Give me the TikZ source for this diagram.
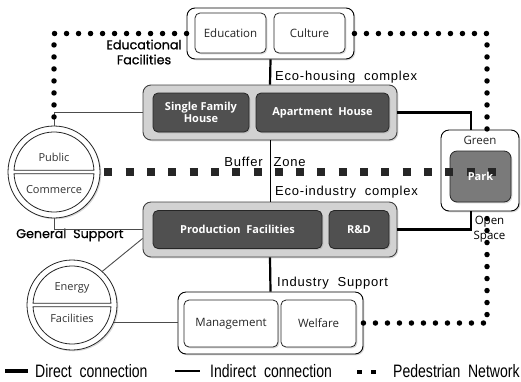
\documentclass[tikz,border=0pt]{standalone}
\usepackage{fontspec}
\setmainfont{Open Sans}
\newfontfamily\geofont[FakeBold=0.7]{Poppins}
\newfontfamily\gulim[LetterSpace=6]{Liberation Sans}
\newfontfamily\legfont[FakeStretch=0.78]{Liberation Sans}
\usetikzlibrary{shadows}
\definecolor{darkbox}{HTML}{505050}
\definecolor{parkgray}{HTML}{7A7A7A}
\definecolor{grpgray}{HTML}{D2D2D2}
\begin{document}
\begin{tikzpicture}[x=1pt,y=-1pt,
  shd/.style={drop shadow={shadow xshift=1.3pt,shadow yshift=-1.3pt,opacity=0.3}},
  groupwhite/.style={draw=black,line width=0.9pt,fill=white,rounded corners=8pt,shd,inner sep=0pt},
  groupgray/.style={draw=black!75,line width=0.9pt,fill=grpgray,rounded corners=8pt,shd,inner sep=0pt},
  wbox/.style={draw=black!85,line width=0.8pt,fill=white,rounded corners=5pt,inner sep=0pt,
    text=black!85,font=\fontsize{11.5}{13}\selectfont,shd},
  dbox/.style={draw=black!85,line width=0.8pt,fill=darkbox,rounded corners=5pt,inner sep=0pt,
    text=white,font=\bfseries\fontsize{11}{13}\selectfont,align=center,shd},
  circ/.style={circle,draw=black!85,line width=0.8pt,fill=white,inner sep=0pt,shd},
  ctext/.style={inner sep=0pt,text=black!80,font=\fontsize{11}{13}\selectfont},
  lbl/.style={inner sep=0pt,text=black,font=\gulim\fontsize{13}{14}\selectfont},
  geo/.style={inner sep=0pt,text=black,align=center,font=\geofont\fontsize{12.7}{15}\selectfont},
  direct/.style={draw=black,line width=2.2pt},
  indirect/.style={draw=black!70,line width=0.9pt},
  ped/.style={draw=black,line width=5.5pt,line cap=round,dash pattern=on 0pt off 12pt},
  buffer/.style={draw=black!85,line width=8pt,dash pattern=on 8pt off 13.3pt},
  legtext/.style={inner sep=0pt,anchor=west,font=\legfont\fontsize{18}{20}\selectfont}
]
\useasboundingbox (0,0) rectangle (521,381);

% group boxes
\node[groupwhite,minimum width=167pt,minimum height=51pt] (topg) at (270.5,33.5) {};
\node[groupgray,minimum width=254pt,minimum height=55pt] (housing) at (270,112.5) {};
\node[groupgray,minimum width=254pt,minimum height=55pt] (industry) at (270,229.5) {};
\node[groupwhite,minimum width=185pt,minimum height=62pt] (bottomg) at (270.5,323) {};
\node[groupwhite,minimum width=78pt,minimum height=81pt] (parkg) at (480,170.5) {};

% inner boxes
\node[wbox,minimum width=71pt,minimum height=40pt] (edu) at (230.5,33) {Education};
\node[wbox,minimum width=71pt,minimum height=40pt] (cult) at (309.5,33) {Culture};
\node[dbox,minimum width=96pt,minimum height=39pt] (sfh) at (201,112.5) {Single Family\\[-1pt]House};
\node[dbox,minimum width=133pt,minimum height=39pt] (apt) at (322.5,112.5) {Apartment\ \ House};
\node[dbox,minimum width=169pt,minimum height=38pt] (prod) at (237.5,229.5) {Production\ \ Facilities};
\node[dbox,minimum width=60pt,minimum height=38pt] (rd) at (359,229.5) {R\&D};
\node[wbox,minimum width=94pt,minimum height=47pt] (mgmt) at (231,323.5) {Management};
\node[wbox,minimum width=75pt,minimum height=47pt] (welf) at (318.5,323.5) {Welfare};
\node[draw=black!85,line width=0.8pt,fill=parkgray,rounded corners=7pt,shd,
  minimum width=61pt,minimum height=51pt] (park) at (480.5,176.5) {};

% circles
\node[circ,minimum size=92pt] (pc) at (54,172) {};
\draw[black!85,line width=0.8pt,fill=white] ([shift={(2.5:40pt)}]pc.center) arc[start angle=2.5,end angle=177.5,radius=40pt] -- cycle;
\draw[black!85,line width=0.8pt,fill=white] ([shift={(-2.5:40pt)}]pc.center) arc[start angle=-2.5,end angle=-177.5,radius=40pt] -- cycle;
\node[ctext] (pub) at (54,157) {Public};
\node[ctext] (com) at (54,190) {Commerce};

\node[circ,minimum size=90pt] (ef) at (72,305) {};
\draw[black!85,line width=0.8pt,fill=white] ([shift={(2.5:39pt)}]ef.center) arc[start angle=2.5,end angle=177.5,radius=39pt] -- cycle;
\draw[black!85,line width=0.8pt,fill=white] ([shift={(-2.5:39pt)}]ef.center) arc[start angle=-2.5,end angle=-177.5,radius=39pt] -- cycle;
\node[ctext] (ene) at (72,288) {Energy};
\node[ctext] (fac) at (72,318) {Facilities};

% labels
\node[geo] (edfac) at (144,52) {Educational\\Facilities};
\node[geo,anchor=west] (gensup) at (16,235) {General\ \ Support};
\node[lbl,anchor=west] (ecoh) at (275,77) {Eco-housing\ \ complex};
\node[lbl,anchor=west] (ecoi) at (275,192) {Eco-industry\ \ complex};
\node[lbl,anchor=west] (indsup) at (277,283.5) {Industry\ \ Support};
\node[lbl] (bufz) at (265,162) {Buffer\hspace{11pt}Zone};
\node[ctext,text=black!85,font=\fontsize{11.5}{13}\selectfont] (green) at (480,140) {Green};
\node[ctext,text=black,align=center,font=\fontsize{11.5}{15}\selectfont] (opensp) at (489.5,229) {Open\\Space};

% connectors
\draw[direct] (topg.south) -- (housing.north);
\draw[indirect,draw=black] (housing.south) -- (industry.north);
\draw[direct] (industry.south) -- (bottomg.north);
\draw[direct] (housing.east) -| ([xshift=-9pt]parkg.north);
\draw[direct] (industry.east) -| ([xshift=-9pt]parkg.south);
\draw[indirect] (pc.north) |- (housing.west);
\draw[indirect] (pc.south) |- (industry.west);
\draw[indirect] (ef.48) -- ([yshift=-9pt]industry.west);
\draw[indirect] (ef.-23.6) -- (ef.-23.6 -| bottomg.west);

% buffer zone
\coordinate (bufend) at (497,172);
\draw[buffer,shorten <=4pt] (pc.east) -- (bufend);
\node[text=white,inner sep=0pt,font=\bfseries\fontsize{11}{13}\selectfont] (parklbl) at (480.5,176) {Park};

% pedestrian network
\draw[ped] (topg.west) -| ([yshift=-2pt]pc.north);
\draw[ped] (topg.east) -| ([xshift=7pt]parkg.north);
\draw[ped] (bottomg.east) -| ([xshift=7pt]parkg.south);

% legend
\coordinate (la1) at (5,371); \coordinate (la2) at (28,371);
\coordinate (lb1) at (175,371); \coordinate (lb2) at (200,371);
\coordinate (lc1) at (357,372); \coordinate (lc2) at (378,372);
\draw[black,line width=4pt] (la1) -- (la2);
\draw[black,line width=1.3pt] (lb1) -- (lb2);
\draw[black,line width=4.5pt,dash pattern=on 5pt off 9pt] (lc1) -- (lc2);
\node[legtext] (lta) at (35,371) {Direct\ \ connection};
\node[legtext] (ltb) at (210,371) {Indirect\ \ connection};
\node[legtext] (ltc) at (393,371) {Pedestrian\ \ Network};
\end{tikzpicture}
\end{document}
